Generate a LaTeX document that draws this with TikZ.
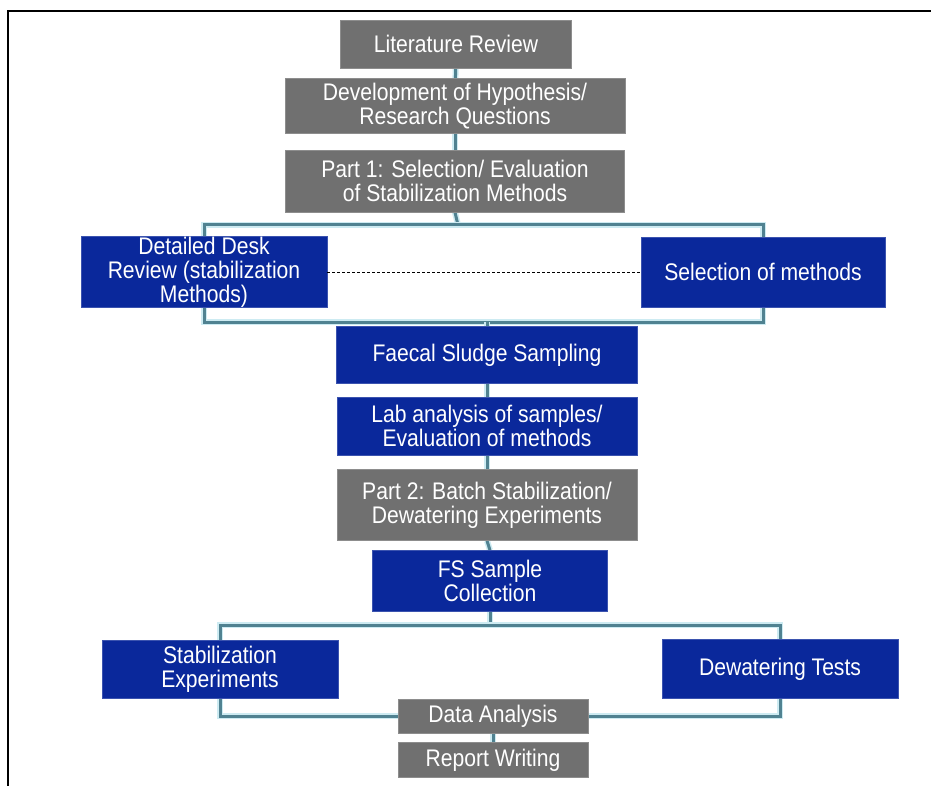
\documentclass[tikz,border=0pt]{standalone}
\usepackage{fontspec}
\setmainfont{Liberation Sans}[FakeStretch=0.88]
\usetikzlibrary{backgrounds}
\definecolor{boxgray}{RGB}{112,112,112}
\definecolor{boxblue}{RGB}{10,40,155}
\definecolor{linkteal}{RGB}{80,130,145}
\definecolor{glow}{RGB}{205,235,242}
\begin{document}
\begin{tikzpicture}[x=1pt,y=-1pt,
  box/.style={rectangle,inner sep=0pt,text=white,align=center,
    font=\fontsize{24}{24}\selectfont},
  graybox/.style={box,fill=boxgray,draw=boxgray!80!white,line width=0.8pt},
  bluebox/.style={box,fill=boxblue,draw=boxblue!80!white,line width=0.8pt},
  link/.style={draw=linkteal,line width=3pt,
    preaction={draw=glow,line width=6pt}},
]
\useasboundingbox (0,0) rectangle (931,786);
\draw[line width=2.5pt] (8,786) -- (8,11) -- (931,11);

\node[graybox,minimum width=231pt,minimum height=48pt] (lit) at (456,44) {Literature Review};
\node[graybox,minimum width=340pt,minimum height=55pt] (dev) at (455,106) {Development of Hypothesis/\\Research Questions};
\node[graybox,minimum width=339pt,minimum height=62pt] (p1) at (455,181) {Part 1: Selection/ Evaluation\\of Stabilization Methods};
\node[bluebox,minimum width=246pt,minimum height=70pt] (desk) at (204,272) {Detailed Desk\\Review (stabilization\\Methods)};
\node[bluebox,minimum width=244pt,minimum height=70pt] (sel) at (763,272) {Selection of methods};
\node[bluebox,minimum width=301pt,minimum height=57pt] (fae) at (487,355) {Faecal Sludge Sampling};
\node[bluebox,minimum width=300pt,minimum height=58pt] (lab) at (487,426) {Lab analysis of samples/\\Evaluation of methods};
\node[graybox,minimum width=300pt,minimum height=71pt] (p2) at (487,505) {Part 2: Batch Stabilization/\\Dewatering Experiments};
\node[bluebox,minimum width=235pt,minimum height=61pt] (fs) at (490,581) {FS Sample\\Collection};
\node[bluebox,minimum width=236pt,minimum height=58pt] (stab) at (220,669) {Stabilization\\Experiments};
\node[bluebox,minimum width=236pt,minimum height=59pt] (dew) at (780,669) {Dewatering Tests};
\node[graybox,minimum width=190pt,minimum height=34pt] (da) at (493,716) {Data Analysis};
\node[graybox,minimum width=190pt,minimum height=35pt] (rep) at (493,760) {Report Writing};

\coordinate (b1) at (458,225);
\coordinate (b2) at (487,322);
\coordinate (b3) at (490,625);

\begin{scope}[on background layer]
\fill[white] (0,0) rectangle (931,786);
\path[link] (lit) -- (dev);
\path[link] (dev) -- (p1);
\path[link] (p1.south) -- (b1);
\path[link] (desk.north) |- (b1) -| (sel.north);
\path[link] (desk.south) |- (b2) -| (sel.south);
\path[link] (b2) -- (fae.north);
\path[link] (fae) -- (lab);
\path[link] (lab) -- (p2);
\path[link] (p2.south) -- (fs.north);
\path[link] (fs.south) -- (b3);
\path[link] (stab.north) |- (b3) -| (dew.north);
\path[link] (stab.south) |- (da.west);
\path[link] (dew.south) |- (da.east);
\path[link] (da) -- (rep);
\end{scope}
\draw[line width=1pt,dash pattern=on 3pt off 2pt] (desk.east) -- (sel.west);
\end{tikzpicture}
\end{document}
